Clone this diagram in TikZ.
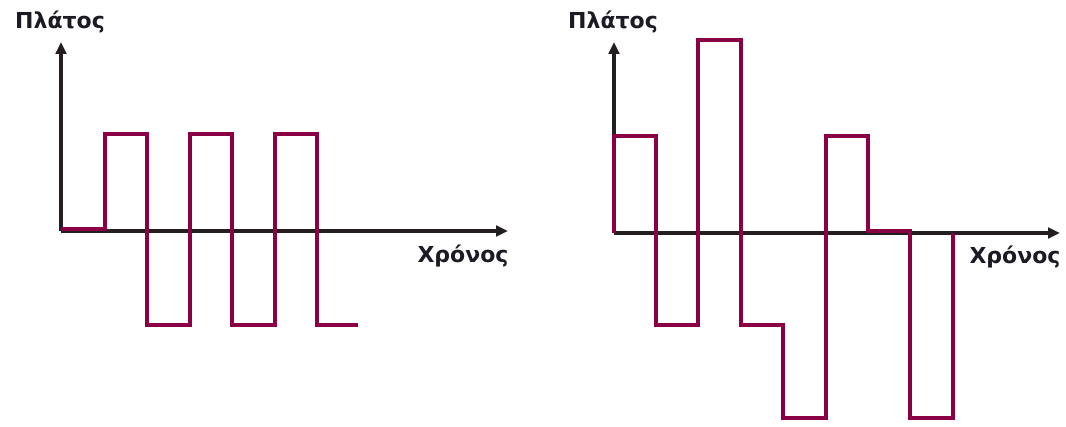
\documentclass[tikz,border=0pt]{standalone}
\usepackage{fontspec}
\setmainfont{DejaVu Sans}
\usetikzlibrary{arrows.meta}
\definecolor{wave}{HTML}{8B0045}
\definecolor{axis}{HTML}{231F20}
\definecolor{lbl}{HTML}{1C1A24}
\tikzset{
  axisline/.style={draw=axis,line width=3pt,-{Triangle[length=9pt,width=8pt]}},
  waveline/.style={draw=wave,line width=3.3pt,line join=miter},
  axislabel/.style={text=lbl,font=\bfseries\fontsize{16.5}{18}\selectfont,inner sep=0pt}
}
\begin{document}
\begin{tikzpicture}[x=0.75pt,y=-0.75pt]
\useasboundingbox (0,0) rectangle (1066,427);
% left chart
\coordinate (lo) at (61,231);
\coordinate (ly) at (61,42);
\coordinate (lx) at (508,231);
\draw[axisline] (lo) -- (ly);
\draw[axisline] (lo) -- (lx);
\draw[waveline] (61,229) -- (105,229) -- (105,134) -- (147,134) -- (147,325) -- (190,325) -- (190,134) -- (232,134) -- (232,325) -- (275,325) -- (275,134) -- (317,134) -- (317,325) -- (358,325);
\node[axislabel] (lyl) at (60,22) {Πλάτος};
\node[axislabel] (lxl) at (463,256) {Χρόνος};
% right chart
\coordinate (ro) at (614,233);
\coordinate (ry) at (614,42);
\coordinate (rx) at (1060,233);
\draw[axisline] (ro) -- (ry);
\draw[axisline] (ro) -- (rx);
\draw[waveline] (614,233) -- (614,136) -- (656,136) -- (656,325) -- (698,325) -- (698,40) -- (741,40) -- (741,325) -- (783,325) -- (783,418) -- (826,418) -- (826,136) -- (868,136) -- (868,231) -- (910,231) -- (910,418) -- (953,418) -- (953,233);
\node[axislabel] (ryl) at (613,22) {Πλάτος};
\node[axislabel] (rxl) at (1015,257) {Χρόνος};
\end{tikzpicture}
\end{document}
